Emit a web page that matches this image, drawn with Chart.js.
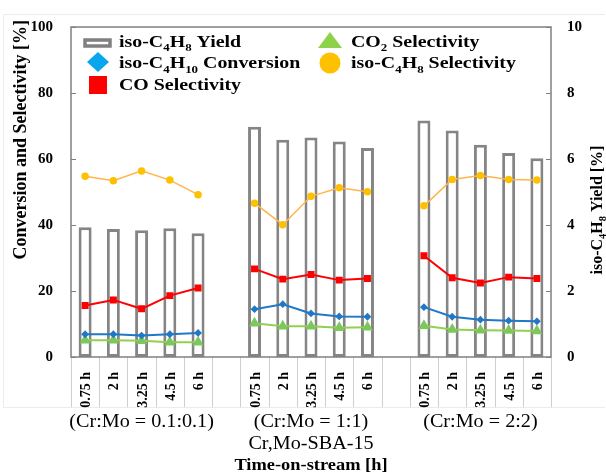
<!DOCTYPE html>
<html>
<head>
<meta charset="utf-8">
<script src="https://cdn.jsdelivr.net/npm/chart.js@4/dist/chart.umd.min.js"></script>
<style>
  html, body { margin: 0; padding: 0; background: #fff; }
  #wrap { width: 606px; height: 473px; }
</style>
</head>
<body>
<div id="wrap"><canvas id="cat"></canvas></div>
<script>
// categories: 3 catalysts x 5 times, empty slot between groups
const categories = ["0.75 h", "2 h", "3.25 h", "4.5 h", "6 h", "",
                    "0.75 h", "2 h", "3.25 h", "4.5 h", "6 h", "",
                    "0.75 h", "2 h", "3.25 h", "4.5 h", "6 h"];
const groupLabels = ["(Cr:Mo = 0.1:0.1)", "(Cr:Mo = 1:1)", "(Cr:Mo = 2:2)"];

// iso-C4H8 yield [%] (right axis)
const yieldC4H8 = [3.93, 3.88, 3.84, 3.90, 3.75, null, 6.98, 6.58, 6.65, 6.53, 6.33, null, 7.17, 6.86, 6.43, 6.18, 6.02];
// conversion / selectivities [%] (left axis)
const convC4H10 = [6.9, 6.9, 6.5, 6.9, 7.3, null, 14.5, 16.0, 13.2, 12.3, 12.2, null, 15.1, 12.2, 11.3, 11.0, 10.8];
const selCO = [15.6, 17.3, 14.6, 18.6, 20.9, null, 26.7, 23.6, 25.0, 23.3, 23.8, null, 30.7, 24.0, 22.4, 24.2, 23.8];
const selCO2 = [5.1, 5.1, 4.9, 4.5, 4.5, null, 10.2, 9.3, 9.3, 8.9, 9.0, null, 9.5, 8.3, 8.1, 8.0, 7.9];
const selC4H8 = [54.8, 53.4, 56.4, 53.6, 49.2, null, 46.6, 40.1, 48.7, 51.3, 50.1, null, 45.8, 53.8, 55.0, 53.8, 53.6];

const FONT = "'Liberation Serif', 'Times New Roman', serif";

// text with subscripts, optional horizontal stretch / rotation
function rich(ctx, segs, x, y, size, weight, align, sx, rot) {
  const font = (s) => weight + " " + s + "px " + FONT;
  let W = 0;
  const parts = segs.map(sg => {
    const s = sg.sub ? size * 0.65 : size;
    ctx.font = font(s);
    const w = ctx.measureText(sg.t).width;
    W += w;
    return { t: sg.t, s, w, dy: sg.sub ? size * 0.28 : 0 };
  });
  ctx.save();
  ctx.translate(x, y);
  if (rot) ctx.rotate(rot);
  ctx.scale(sx || 1, 1);
  let cx = align === "left" ? 0 : align === "center" ? -W / 2 : -W;
  ctx.textAlign = "left";
  ctx.textBaseline = "alphabetic";
  ctx.fillStyle = "#000";
  parts.forEach(p => {
    ctx.font = font(p.s);
    ctx.fillText(p.t, cx, p.dy);
    cx += p.w;
  });
  ctx.restore();
}

const decor = {
  id: "decor",
  afterDraw(chart) {
    const ctx = chart.ctx;
    const a = chart.chartArea;
    const xs = chart.scales.x;
    const ys = chart.scales.y;
    ctx.save();

    // faint outer box
    ctx.strokeStyle = "#ececec";
    ctx.lineWidth = 1;
    ctx.beginPath();
    ctx.moveTo(3.5, 407.5); ctx.lineTo(3.5, 14.5); ctx.lineTo(605, 14.5);
    ctx.moveTo(3.5, 407.5); ctx.lineTo(605, 407.5);
    ctx.stroke();

    // category separators below axis
    ctx.strokeStyle = "#cfcfcf";
    const n = categories.length;
    const step = (a.right - a.left) / n;
    for (let i = 0; i <= n; i++) {
      const x = Math.round(a.left + i * step) + 0.5;
      ctx.beginPath();
      ctx.moveTo(x, a.bottom);
      ctx.lineTo(x, 407);
      ctx.stroke();
    }

    // plot frame
    ctx.strokeStyle = "#808080";
    ctx.lineWidth = 1.5;
    ctx.strokeRect(a.left, a.top, a.right - a.left, a.bottom - a.top);

    // inward ticks on both y axes
    ctx.lineWidth = 1;
    ys.ticks.forEach(t => {
      const y = Math.round(ys.getPixelForValue(t.value)) + 0.5;
      ctx.beginPath();
      ctx.moveTo(a.left, y); ctx.lineTo(a.left + 5, y);
      ctx.moveTo(a.right - 5, y); ctx.lineTo(a.right, y);
      ctx.stroke();
    });

    // rotated time labels
    categories.forEach((c, i) => {
      if (!c) return;
      rich(ctx, [{ t: c }], xs.getPixelForValue(i) + 5, a.bottom + 15, 14, "bold", "right", 1, -Math.PI / 2);
    });

    // group labels
    groupLabels.forEach((g, k) => {
      const x = xs.getPixelForValue(k * 6 + 2);
      rich(ctx, [{ t: g }], x, 427, 18, "normal", "center", 1.12);
    });
    const mid = xs.getPixelForValue(8);
    rich(ctx, [{ t: "Cr,Mo-SBA-15" }], mid, 449, 18, "normal", "center", 1.12);
    rich(ctx, [{ t: "Time-on-stream [h]" }], mid, 470, 16, "bold", "center", 1.15);

    // axis titles
    rich(ctx, [{ t: "Conversion and Selectivity [%]" }], 26, 20, 18, "bold", "right", 1, -Math.PI / 2);
    rich(ctx, [{ t: "iso-C" }, { t: "4", sub: true }, { t: "H" }, { t: "8", sub: true }, { t: " Yield [%]" }],
      602, 210, 16, "bold", "center", 1, -Math.PI / 2);

    // legend
    ctx.strokeStyle = "#808080";
    ctx.lineWidth = 3.5;
    ctx.fillStyle = "#fff";
    ctx.fillRect(85, 40, 25, 6);
    ctx.strokeRect(85, 40, 25, 6);
    ctx.fillStyle = "#0aa5ef";
    ctx.beginPath();
    ctx.moveTo(98, 52); ctx.lineTo(109, 62); ctx.lineTo(98, 72); ctx.lineTo(87, 62);
    ctx.closePath(); ctx.fill();
    ctx.fillStyle = "#ff0000";
    ctx.fillRect(89, 76, 18, 18);
    ctx.fillStyle = "#8ed24a";
    ctx.beginPath();
    ctx.moveTo(330, 32); ctx.lineTo(342, 48); ctx.lineTo(318, 48);
    ctx.closePath(); ctx.fill();
    ctx.fillStyle = "#ffc000";
    ctx.beginPath();
    ctx.arc(330, 63, 10.5, 0, Math.PI * 2);
    ctx.fill();

    const L = 17, sx = 1.17;
    rich(ctx, [{ t: "iso-C" }, { t: "4", sub: true }, { t: "H" }, { t: "8", sub: true }, { t: " Yield" }], 119, 46.5, L, "bold", "left", sx);
    rich(ctx, [{ t: "iso-C" }, { t: "4", sub: true }, { t: "H" }, { t: "10", sub: true }, { t: " Conversion" }], 119, 68, L, "bold", "left", sx);
    rich(ctx, [{ t: "CO Selectivity" }], 119, 89.5, L, "bold", "left", sx);
    rich(ctx, [{ t: "CO" }, { t: "2", sub: true }, { t: " Selectivity" }], 351, 46.5, L, "bold", "left", sx);
    rich(ctx, [{ t: "iso-C" }, { t: "4", sub: true }, { t: "H" }, { t: "8", sub: true }, { t: " Selectivity" }], 351, 68, L, "bold", "left", sx);

    ctx.restore();
  }
};

const tickFont = { family: FONT, size: 15, weight: "bold" };

new Chart(document.getElementById("cat"), {
  type: "bar",
  data: {
    labels: categories,
    datasets: [
      {
        label: "iso-C4H8 Selectivity",
        type: "line",
        data: selC4H8,
        yAxisID: "y",
        borderColor: "#ffb54c",
        borderWidth: 1.5,
        pointStyle: "circle",
        pointRadius: 3,
        pointBackgroundColor: "#ffc000",
        pointBorderColor: "#ffc000",
        spanGaps: false,
        order: 1
      },
      {
        label: "CO Selectivity",
        type: "line",
        data: selCO,
        yAxisID: "y",
        borderColor: "#ff0000",
        borderWidth: 2,
        pointStyle: "rect",
        pointRadius: 3.5,
        pointBackgroundColor: "#ff0000",
        pointBorderColor: "#ff0000",
        spanGaps: false,
        order: 2
      },
      {
        label: "iso-C4H10 Conversion",
        type: "line",
        data: convC4H10,
        yAxisID: "y",
        borderColor: "#1f78c8",
        borderWidth: 2,
        pointStyle: "rectRot",
        pointRadius: 2.5,
        pointBackgroundColor: "#1f78c8",
        pointBorderColor: "#1f78c8",
        spanGaps: false,
        order: 3
      },
      {
        label: "CO2 Selectivity",
        type: "line",
        data: selCO2,
        yAxisID: "y",
        borderColor: "#92d050",
        borderWidth: 2,
        pointStyle: "triangle",
        pointRadius: 4.5,
        pointBackgroundColor: "#7cc85a",
        pointBorderColor: "#7cc85a",
        spanGaps: false,
        order: 4
      },
      {
        label: "iso-C4H8 Yield",
        data: yieldC4H8,
        yAxisID: "y2",
        backgroundColor: "#ffffff",
        borderColor: "#858585",
        borderWidth: 3,
        borderSkipped: false,
        barPercentage: 0.46,
        categoryPercentage: 1.0,
        order: 10
      }
    ]
  },
  options: {
    responsive: true,
    maintainAspectRatio: false,
    animation: false,
    layout: { padding: { top: 22, left: 0, right: 0, bottom: 0 } },
    plugins: {
      legend: { display: false },
      tooltip: { enabled: false }
    },
    scales: {
      x: {
        grid: { display: false, drawTicks: false },
        border: { display: false },
        ticks: { display: false },
        afterFit: s => { s.height = 116; }
      },
      y: {
        position: "left",
        min: 0, max: 100,
        grid: { display: false, drawTicks: false },
        border: { display: false },
        ticks: { stepSize: 20, padding: 18, color: "#000", font: tickFont },
        afterFit: s => { s.width = 71; }
      },
      y2: {
        position: "right",
        min: 0, max: 10,
        grid: { display: false, drawTicks: false },
        border: { display: false },
        ticks: { stepSize: 2, padding: 16, color: "#000", font: tickFont },
        afterFit: s => { s.width = 55; }
      }
    }
  },
  plugins: [decor]
});
</script>
</body>
</html>
